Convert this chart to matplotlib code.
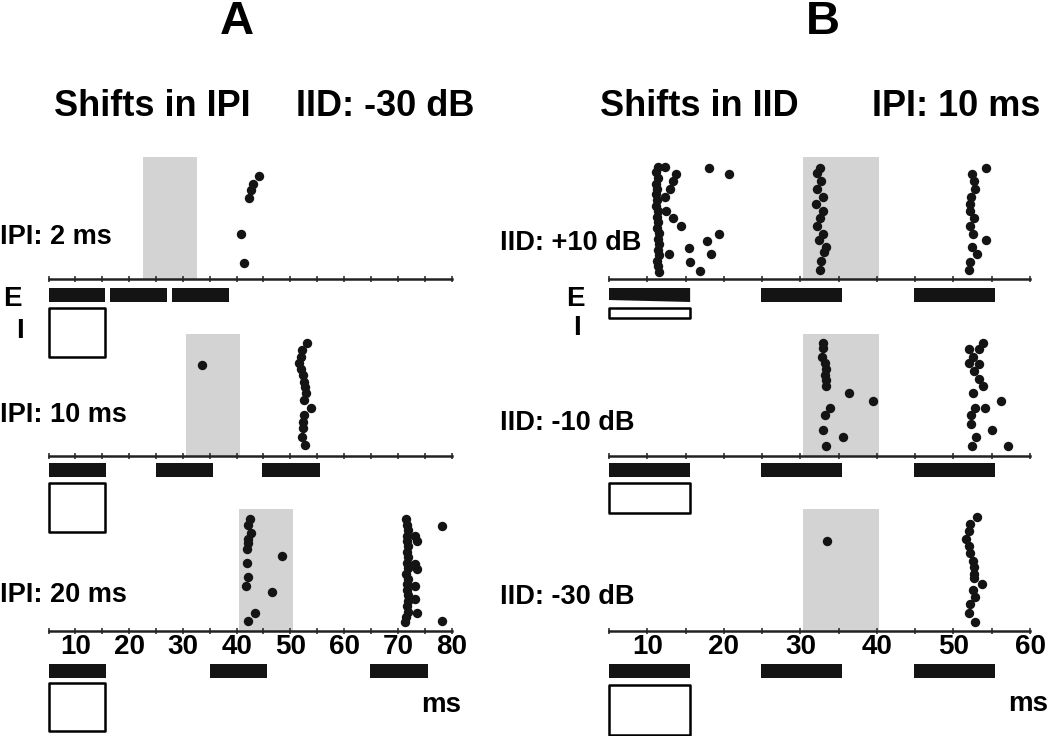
import matplotlib
matplotlib.use("Agg")
import matplotlib.pyplot as plt

plt.rcParams['font.family'] = ['Liberation Sans', 'DejaVu Sans']
plt.rcParams['font.weight'] = 'bold'

W, H = 1050, 736

# ---------------- data ----------------
panel_titles = ['A', 'B']
a_header = ['Shifts in IPI', 'IID: -30 dB']
b_header = ['Shifts in IID', 'IPI: 10 ms']
a_row_labels = ['IPI: 2 ms', 'IPI: 10 ms', 'IPI: 20 ms']
b_row_labels = ['IID: +10 dB', 'IID: -10 dB', 'IID: -30 dB']

a_xlim = (5, 80)
b_xlim = (5, 60)
a_tick_labels = [10, 20, 30, 40, 50, 60, 70, 80]
b_tick_labels = [10, 20, 30, 40, 50, 60]

# excitatory pulses (start, end) in ms
a_e_pulses = [[(5, 15.6), (16.5, 27.0), (28.0, 38.5)],
              [(5, 15.7), (25.0, 35.6), (44.8, 55.6)],
              [(5, 15.7), (35.0, 45.7), (64.8, 75.6)]]
b_e_pulses = [[(4.9, 15.6), (24.8, 35.5), (44.8, 55.4)]] * 3
# inhibitory pulse (start, end)
i_pulse = (5, 15.6)

# shaded analysis windows (ms)
a_windows = [(22.5, 32.7), (30.6, 40.6), (40.5, 50.5)]
b_windows = [(30.4, 40.3), (30.4, 40.3), (30.4, 40.3)]

# spikes: time (ms) and trial
a1_time = [44.1, 43.1, 42.7, 42.4, 40.8, 41.3]
a1_trial = [18.7, 17.2, 16.1, 14.7, 8.1, 2.7]

a2_time = [33.5, 53.2, 52.2, 52.0, 51.7, 52.0, 52.3, 52.5, 52.8, 53.0,
           52.5, 53.8, 52.5, 52.3, 52.3, 52.2, 52.8]
a2_trial = [16.5, 20.6, 19.3, 18.0, 16.8, 15.7, 14.7, 13.4, 12.5, 11.3,
            10.0, 8.5, 7.3, 6.0, 4.8, 3.3, 1.7]

a3_time = [42.5, 42.1, 42.7, 42.2, 42.1, 42.0, 42.0, 42.1, 41.8, 48.5,
           46.6, 43.5, 42.1,
           71.5, 71.7, 71.9, 71.8, 71.7, 71.9, 71.7, 71.9, 71.7, 71.9,
           71.6, 71.9, 71.8, 71.7, 71.9, 71.9, 71.7, 71.9, 71.6, 71.4,
           73.3, 73.6, 73.3, 73.6, 73.3, 73.3, 73.6, 78.2, 78.3]
a3_trial = [20.3, 19.2, 17.7, 16.6, 15.9, 14.9, 12.3, 9.7, 8.1, 13.5,
            6.9, 3.1, 1.6,
            20.3, 19.3, 18.3, 17.3, 16.3, 15.3, 14.3, 13.3, 12.3, 11.3,
            10.3, 9.3, 8.3, 7.3, 6.3, 5.3, 4.3, 3.3, 2.3, 1.3,
            17.2, 16.3, 12.0, 11.1, 8.1, 5.6, 3.0, 19.0, 1.6]

b1_time = [11.4, 11.2, 11.4, 11.2, 11.3, 11.1, 11.3, 11.2, 11.4, 11.3,
           11.4, 11.3, 11.5, 11.4, 11.5, 11.4, 11.5, 11.3, 11.4, 11.5,
           12.3, 13.75, 13.4, 12.97, 12.3, 12.5, 13.4, 14.4, 17.8, 19.4,
           12.9, 15.4, 18.3, 15.6, 16.9, 18.1, 20.7,
           32.6, 32.2, 32.7, 32.2, 32.9, 32.1, 32.9, 32.6, 32.2, 33.0,
           32.4, 33.4, 33.1, 32.7, 32.6,
           54.3, 52.4, 52.7, 52.8, 52.3, 52.1, 52.2, 52.7, 52.1, 52.5,
           54.3, 52.4, 53.1, 52.1, 52.0]
b1_trial = [20.4, 19.4, 18.3, 17.3, 16.3, 15.3, 14.3, 13.2, 12.2, 11.2,
            10.2, 9.2, 8.2, 7.1, 6.1, 5.1, 4.1, 3.1, 2.1, 1.0,
            20.4, 19.0, 17.7, 16.4, 14.9, 12.3, 10.9, 9.5, 6.7, 8.1,
            4.3, 5.4, 4.3, 2.8, 1.2, 20.2, 19.0,
            20.2, 19.2, 17.7, 16.4, 14.9, 13.5, 12.3, 10.9, 9.5, 8.1,
            6.9, 5.7, 4.6, 3.0, 1.4,
            20.2, 19.0, 17.7, 16.4, 14.9, 13.5, 12.3, 10.9, 9.5, 8.1,
            6.9, 5.7, 4.3, 2.9, 1.4]

b2_time = [33.0, 32.9, 32.8, 33.2, 33.4, 33.2, 33.4, 33.4, 36.4, 39.5,
           33.9, 33.2, 32.9, 35.6, 33.4,
           53.8, 53.4, 52.0, 52.5, 52.0, 53.4, 52.7, 53.4, 53.9, 52.6,
           56.2, 52.8, 54.1, 52.3, 52.3, 55.1, 53.0, 52.4, 57.1]
b2_trial = [20.6, 19.6, 18.0, 16.8, 15.7, 14.7, 13.7, 12.6, 11.4, 9.9,
            8.5, 7.3, 4.5, 3.2, 1.6,
            20.6, 19.4, 19.4, 18.0, 16.8, 16.7, 15.4, 13.9, 12.6, 11.4,
            9.9, 8.5, 8.5, 7.3, 5.7, 4.5, 3.2, 1.6, 1.6]

b3_time = [33.5,
           53.1, 52.1, 52.0, 51.6, 52.0, 52.2, 52.5, 52.7, 52.7, 52.7,
           53.7, 52.5, 52.8, 52.2, 52.0, 52.8]
b3_trial = [16.3,
            20.7, 19.5, 18.2, 16.7, 15.4, 14.1, 12.7, 11.6, 10.3, 9.4,
            8.3, 7.2, 5.9, 4.7, 3.1, 1.4]

a_spikes = [(a1_time, a1_trial), (a2_time, a2_trial), (a3_time, a3_trial)]
b_spikes = [(b1_time, b1_trial), (b2_time, b2_trial), (b3_time, b3_trial)]

# ---------------- layout (pixels) ----------------
fig = plt.figure(figsize=(W / 100, H / 100), dpi=100)


def add_ax(x0, y0, x1, y1):
    return fig.add_axes([x0 / W, 1 - y1 / H, (x1 - x0) / W, (y1 - y0) / H])


def ftext(x, y, s, size, ha='center', va='center'):
    fig.text(x / W, 1 - y / H, s, fontsize=size, fontweight='bold',
             ha=ha, va=va, family=['Liberation Sans', 'DejaVu Sans'])


row_top = [157, 334, 509]
row_axis = [279, 456, 631]
bar_top = [288, 463, 664]
a_ibox = [(308, 357), (483, 532), (683, 731)]
b_ibox = [(308, 318), (483, 513), (685, 735)]

px_per_trial = 5.42
y_lo = 1 - 7 / px_per_trial
y_hi = y_lo + 122 / px_per_trial

SHADE = '#d3d3d3'
INK = '#141414'


def raster(x0, x1, r, xlim, window, spikes, tick_labels, last):
    ax = add_ax(x0, row_top[r], x1, row_axis[r])
    ax.set_xlim(*xlim)
    ax.set_ylim(y_lo, y_hi)
    ax.axvspan(window[0], window[1], color=SHADE, lw=0, zorder=0)
    ax.scatter(spikes[0], spikes[1], s=46, color=INK, lw=0, zorder=3,
               clip_on=False)
    for s in ['left', 'right', 'top']:
        ax.spines[s].set_visible(False)
    ax.spines['bottom'].set_linewidth(1.8)
    ax.spines['bottom'].set_color('#222222')
    ax.set_yticks([])
    ticks = list(range(xlim[0], xlim[1] + 1, 5))
    ax.set_xticks(ticks)
    if last:
        ax.set_xticklabels([str(t) if t in tick_labels else '' for t in ticks])
    else:
        ax.set_xticklabels([''] * len(ticks))
    ax.tick_params(axis='x', direction='inout', length=4, width=1.2,
                   color='#333333', labelsize=20, pad=0)
    for lab in ax.get_xticklabels():
        lab.set_fontweight('bold')
    ax.patch.set_alpha(0)
    return ax


def stim(x0, x1, r, xlim, pulses, ibox, wedge=False):
    top = bar_top[r]
    bottom = ibox[1] + 2
    ax = add_ax(x0, top, x1, bottom)
    ax.set_xlim(*xlim)
    ax.set_ylim(bottom - top, 0)
    ax.axis('off')
    for k, (s, e) in enumerate(pulses):
        if wedge and k == 0:
            ax.fill([s, e, e, s], [0, 0, 14, 12], color=INK, lw=0)
        else:
            ax.broken_barh([(s, e - s)], (0, 14), color=INK, lw=0)
    ax.broken_barh([(i_pulse[0], i_pulse[1] - i_pulse[0])],
                   (ibox[0] - top, ibox[1] - ibox[0]),
                   facecolor='white', edgecolor='black', lw=1.8,
                   clip_on=False)
    return ax


for r in range(3):
    raster(48.5, 451.5, r, a_xlim, a_windows[r], a_spikes[r],
           a_tick_labels, r == 2)
    stim(48.5, 451.5, r, a_xlim, a_e_pulses[r], a_ibox[r])
    raster(609, 1030, r, b_xlim, b_windows[r], b_spikes[r],
           b_tick_labels, r == 2)
    stim(609, 1030, r, b_xlim, b_e_pulses[r], b_ibox[r], wedge=(r == 0))

# texts
ftext(237, 22, panel_titles[0], 34)
ftext(823, 22, panel_titles[1], 34)
ftext(152, 107, a_header[0], 26)
ftext(385, 107, a_header[1], 26)
ftext(699, 107, b_header[0], 26)
ftext(956, 107, b_header[1], 26)

a_label_y = [237, 415, 595]
b_label_y = [243, 423, 597]
for r in range(3):
    ftext(0, a_label_y[r], a_row_labels[r], 19.5, ha='left')
    ftext(500, b_label_y[r], b_row_labels[r], 19.5, ha='left')

ftext(12, 299, 'E', 20)
ftext(20, 331, 'I', 20)
ftext(575, 299, 'E', 20)
ftext(577, 328, 'I', 20)
ftext(441, 705, 'ms', 20)
ftext(1028, 704, 'ms', 20)

fig.savefig('out.png', dpi=100)
